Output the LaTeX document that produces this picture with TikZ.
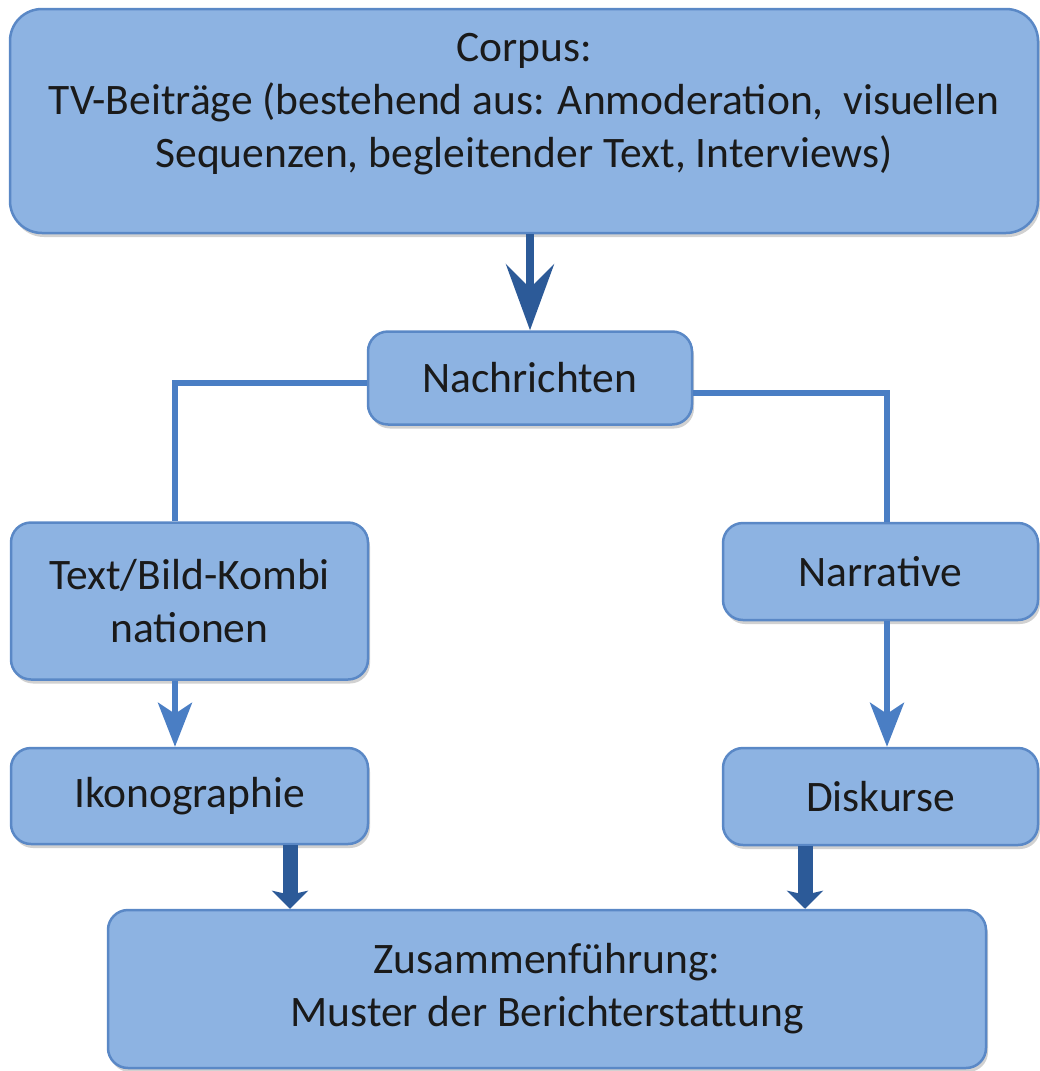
\documentclass[tikz,border=0pt]{standalone}
\usepackage{fontspec}
\setmainfont{Carlito}
\usepackage{tikz}
\usetikzlibrary{arrows.meta}
\usetikzlibrary{shadows}
\usetikzlibrary{positioning}

\definecolor{boxfill}{HTML}{8DB3E2}
\definecolor{boxline}{HTML}{5A88C6}
\definecolor{linkblue}{HTML}{4A7EC4}
\definecolor{darkblue}{HTML}{2C5A98}
\definecolor{textgray}{HTML}{1A1A1A}

\begin{document}
\begin{tikzpicture}[x=1pt,y=-1pt,
    box/.style={draw=boxline,line width=2.5pt,fill=boxfill,rounded corners=20pt,
      text=textgray,align=center,inner sep=0pt,
      font=\fontsize{43.5}{53}\selectfont,
      drop shadow={shadow xshift=2pt,shadow yshift=-4pt,opacity=0.3,fill=black!60}},
    link/.style={draw=linkblue,line width=5.5pt},
    linkarrow/.style={link,-{Stealth[length=44pt,width=34pt,inset=11pt]}},
    bigarrow/.style={draw=darkblue,line width=8pt,-{Stealth[length=66pt,width=48pt,inset=24pt]}},
    fatarrow/.style={draw=darkblue,line width=15pt,-{Stealth[length=18pt,width=36pt,inset=4pt]}}]
  \useasboundingbox (0,0) rectangle (1040,1071);

  % boxes
  \node[box,rounded corners=32pt,minimum width=1028pt,minimum height=224pt] (corpus) at (524,121) {};
  \node[text=textgray,align=center,font=\fontsize{43.5}{53}\selectfont] (corpustext) at (524,104)
    {Corpus:\\TV-Beiträge (bestehend aus: Anmoderation,\ \ visuellen\\Sequenzen, begleitender Text, Interviews)};
  \node[box,minimum width=324pt,minimum height=93pt] (nachr) at (530,378) {Nachrichten};
  \node[box,minimum width=357pt,minimum height=157pt] (textbild) at (189.5,601) {Text/Bild-Kombi\\nationen};
  \node[box,minimum width=315pt,minimum height=97pt] (narrative) at (880.5,571.5) {Narrative};
  \node[box,minimum width=357pt,minimum height=96pt] (ikono) at (189.5,796) {Ikonographie};
  \node[box,minimum width=315pt,minimum height=97pt] (diskurse) at (880.5,796.5) {Diskurse};
  \node[box,minimum width=878pt,minimum height=158pt] (zusammen) at (547,989) {Zusammenführung:\\Muster der Berichterstattung};

  % connectors
  \draw[bigarrow] (corpus.south -| nachr.north) -- (nachr.north);
  \draw[link] ([yshift=-5pt]nachr.west) -| ([xshift=-14.5pt]textbild.north);
  \draw[link] ([yshift=-15pt]nachr.east) -| ([xshift=6.5pt]narrative.north);
  \draw[linkarrow] ([xshift=-14.5pt]textbild.south) -- ([xshift=-14.5pt]ikono.north);
  \draw[linkarrow] ([xshift=6.5pt]narrative.south) -- ([xshift=6.5pt]diskurse.north);
  \draw[fatarrow] ([xshift=100.5pt]ikono.south) -- ([xshift=100.5pt]ikono.south |- zusammen.north);
  \draw[fatarrow] ([xshift=-75.5pt]diskurse.south) -- ([xshift=-75.5pt]diskurse.south |- zusammen.north);
\end{tikzpicture}
\end{document}
